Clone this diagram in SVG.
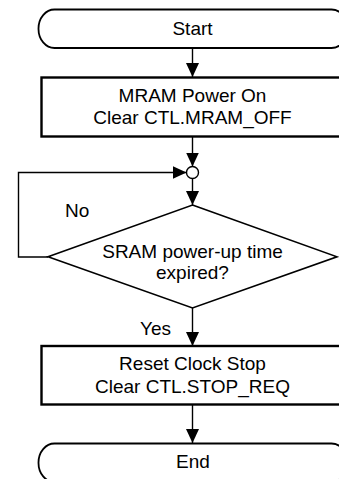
<svg xmlns="http://www.w3.org/2000/svg" width="339" height="479" viewBox="0 0 339 479">
<style>
text{font-family:"Liberation Sans",Arial,sans-serif;font-size:19px;fill:#000}
.c{text-anchor:middle}
.term{fill:#fff;stroke:#000;stroke-width:1.8}
.box{fill:#fff;stroke:#000;stroke-width:2.4}
.dec{fill:#fff;stroke:#000;stroke-width:1.6}
.ln{fill:none;stroke:#000;stroke-width:1.4}
</style>
<defs>
<marker id="ah" viewBox="0 0 14 13" refX="14" refY="6.5" markerWidth="14" markerHeight="13" markerUnits="userSpaceOnUse" orient="auto">
<path d="M0,0 L14,6.5 L0,13 Z" fill="#000"/>
</marker>
</defs>
<g id="connectors">
<line class="ln" x1="192.5" y1="48" x2="192.5" y2="77" marker-end="url(#ah)"/>
<line class="ln" x1="192.5" y1="137" x2="192.5" y2="166.5" marker-end="url(#ah)"/>
<line class="ln" x1="192.5" y1="178.5" x2="192.5" y2="205" marker-end="url(#ah)"/>
<polyline class="ln" points="48,257 18.5,257 18.5,172.5 186.5,172.5" marker-end="url(#ah)"/>
<line class="ln" x1="192.5" y1="308" x2="192.5" y2="346" marker-end="url(#ah)"/>
<line class="ln" x1="192.5" y1="404" x2="192.5" y2="443" marker-end="url(#ah)"/>
<circle cx="192.5" cy="172.5" r="6" fill="#fff" stroke="#000" stroke-width="1.4"/>
</g>
<g id="start">
<rect class="term" x="38.5" y="9.5" width="309" height="38.5" rx="16" ry="19"/>
<text class="c" x="192.5" y="35">Start</text>
</g>
<g id="mram-on">
<rect class="box" x="41.5" y="77.5" width="303" height="59"/>
<text class="c" x="192.5" y="101.5">MRAM Power On</text>
<text class="c" x="192.5" y="123.5">Clear CTL.MRAM_OFF</text>
</g>
<g id="decision">
<polygon class="dec" points="192.5,205 337,256.8 192.5,308 48,256.8"/>
<text class="c" x="192.5" y="258">SRAM power-up time</text>
<text class="c" x="192.5" y="279">expired?</text>
<text x="65" y="217">No</text>
<text x="140" y="335">Yes</text>
</g>
<g id="reset-clock">
<rect class="box" x="41.5" y="346" width="303" height="58.5"/>
<text class="c" x="192.5" y="370">Reset Clock Stop</text>
<text class="c" x="192.5" y="393">Clear CTL.STOP_REQ</text>
</g>
<g id="end">
<rect class="term" x="38.5" y="443.5" width="309" height="38.5" rx="16" ry="19"/>
<text class="c" x="193" y="468">End</text>
</g>
</svg>
